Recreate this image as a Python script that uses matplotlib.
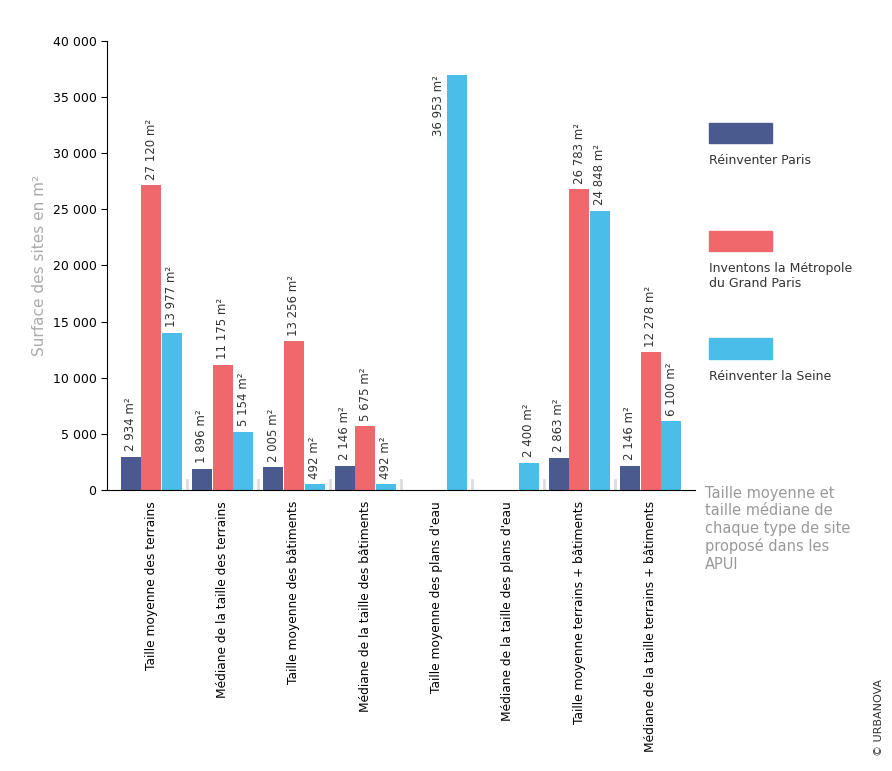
import numpy as np
import matplotlib.pyplot as plt
from matplotlib.patches import Rectangle

categories = ["Taille moyenne des terrains", "Médiane de la taille des terrains",
              "Taille moyenne des bâtiments", "Médiane de la taille des bâtiments",
              "Taille moyenne des plans d'eau", "Médiane de la taille des plans d'eau",
              "Taille moyenne terrains + bâtiments", "Médiane de la taille terrains + bâtiments"]
series_names = ["Réinventer Paris", "Inventons la Métropole\ndu Grand Paris", "Réinventer la Seine"]
reinventer_paris = [2934, 1896, 2005, 2146, None, None, 2863, 2146]
inventons = [27120, 11175, 13256, 5675, None, None, 26783, 12278]
reinventer_seine = [13977, 5154, 492, 492, 36953, 2400, 24848, 6100]
colors = ["#4a5a8e", "#ee686c", "#4bbde9"]

def fmt(v):
    return "{:,}".format(int(v)).replace(",", " ")

fig = plt.figure(figsize=(8.92, 7.71), dpi=100)
ax = fig.add_axes([0.12, 0.3645, 0.659, 0.5825])
x = np.arange(len(categories))
w = 0.29
for k, vals in enumerate([reinventer_paris, inventons, reinventer_seine]):
    for i, v in enumerate(vals):
        if v is None:
            continue
        xi = x[i] + (k - 1) * w
        ax.bar(xi, v, w * 0.97, color=colors[k])
        if v > 35000:
            ax.text(xi - w * 0.9, v, fmt(v) + " m²", rotation=90, ha="center", va="top",
                    fontsize=8.5, color="#333333")
        else:
            ax.text(xi, v + 500, fmt(v) + " m²", rotation=90, ha="center", va="bottom",
                    fontsize=8.5, color="#333333")
# small grey separators on the baseline
for i in range(len(categories) - 1):
    ax.plot([i + 0.5, i + 0.5], [0, 900], color="#dddddd", lw=2)

ax.set_xlim(-0.62, 7.62)
ax.set_ylim(0, 40000)
ax.set_yticks(range(0, 40001, 5000))
ax.set_yticklabels([fmt(t) for t in range(0, 40001, 5000)], fontsize=9)
ax.set_xticks(x)
ax.set_xticklabels(categories, rotation=90, fontsize=8.8)
ax.tick_params(axis="x", length=0, pad=8)
ax.tick_params(axis="y", length=4)
ax.spines["top"].set_visible(False)
ax.spines["right"].set_visible(False)
ax.set_ylabel("Surface des sites en m²", color="#aaaaaa", fontsize=11)

# legend on the right
leg_y = [0.815, 0.675, 0.535]
for k in range(3):
    fig.patches.append(Rectangle((0.795, leg_y[k]), 0.07, 0.026, color=colors[k],
                                 transform=fig.transFigure, figure=fig))
    fig.text(0.795, leg_y[k] - 0.015, series_names[k], fontsize=9, va="top", color="#333333")

fig.text(0.79, 0.37, "Taille moyenne et\ntaille médiane de\nchaque type de site\nproposé dans les\nAPUI",
         fontsize=10.5, color="#999999", va="top", linespacing=1.2)
fig.text(0.985, 0.02, "© URBANOVA", rotation=90, fontsize=8, ha="center", va="bottom", color="#333333")

fig.savefig("out.png", dpi=100)
